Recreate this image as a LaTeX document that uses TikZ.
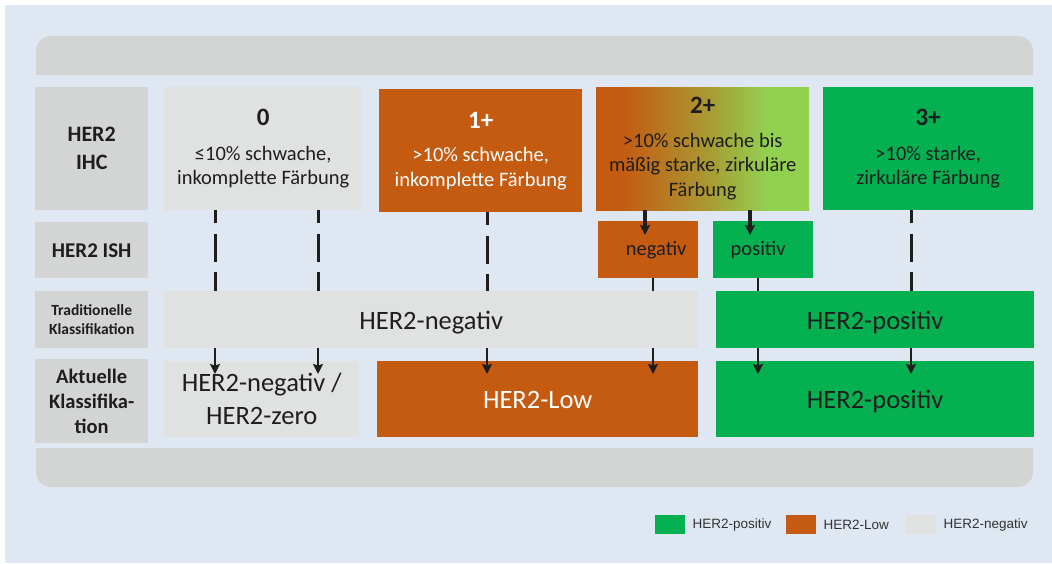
\documentclass[tikz,border=0pt]{standalone}
\usepackage{fontspec}
\setmainfont{Carlito}
\newfontfamily\legfont{Liberation Sans}
\usepackage{xcolor}
\definecolor{bgblue}{HTML}{DFE8F2}
\definecolor{hdrgray}{HTML}{D3D4D4}
\definecolor{negray}{HTML}{E0E1E1}
\definecolor{lowor}{HTML}{C55A11}
\definecolor{posgr}{HTML}{05B050}
\definecolor{lightgr}{HTML}{92D050}
\definecolor{ink}{HTML}{1E1E1E}
\definecolor{legink}{HTML}{333333}
\usepackage{tikz}
\usetikzlibrary{arrows.meta,positioning}
\pgfdeclarehorizontalshading{twoplus}{100bp}{color(0bp)=(lowor); color(31bp)=(lowor); color(50bp)=(lowor!50!lightgr); color(65bp)=(lightgr); color(100bp)=(lightgr)}
\tikzset{
  >={Stealth[length=10pt,width=10pt,inset=1.5pt]},
  cell/.style={anchor=north west,inner sep=0pt,align=center,text=ink},
  sz/.style 2 args={minimum width=#1pt,minimum height=#2pt},
  hdr/.style={cell,fill=hdrgray},
  gbox/.style={cell,fill=negray},
  obox/.style={cell,fill=lowor,text=white},
  pbox/.style={cell,fill=posgr},
  sbox/.style={cell,shade,shading=twoplus},
  big/.style={font=\fontsize{26.5}{33}\selectfont},
  bigone/.style={big,text height=19pt,text depth=0pt},
  body/.style={font=\fontsize{20.5}{24.5}\selectfont},
  dline/.style={draw=ink,line width=3pt,dash pattern=on 28pt off 10.5pt,dash phase=15pt},
  arr/.style={->,draw=ink,line width=2.8pt},
  legbox/.style={anchor=north west,inner sep=0pt,minimum width=30pt,minimum height=19pt},
  leg/.style={inner sep=0pt,font=\legfont\fontsize{13.5}{16}\selectfont,text=legink},
}
\begin{document}
\begin{tikzpicture}[x=1pt,y=-1pt]
\useasboundingbox (0,0) rectangle (1052,563);
\fill[white] (0,0) rectangle (1052,563);
\fill[bgblue] (5,5) rectangle (1052,563);
% top and bottom bars
\fill[hdrgray,rounded corners=15pt] (36,75) -- (36,36) -- (1033,36) -- (1033,75);
\fill[hdrgray,rounded corners=15pt] (36,448) -- (36,487) -- (1033,487) -- (1033,448);

% row heads
\node[hdr,sz={113}{123},font=\bfseries\fontsize{22}{28}\selectfont] (hIHC) at (35,87) {HER2\\IHC};
\node[hdr,sz={113}{56},font=\bfseries\fontsize{21}{25}\selectfont] (hISH) at (35,222) {HER2 ISH};
\node[hdr,sz={113}{57},font=\bfseries\fontsize{15.5}{18.7}\selectfont] (hTrad) at (35,291) {Traditionelle\\Klassifikation};
\node[hdr,sz={113}{84},font=\bfseries\fontsize{20.5}{25}\selectfont] (hAkt) at (35,359) {Aktuelle\\Klassifika-\\tion};

% IHC scores
\node[gbox,body,sz={198}{123}] (ihc0) at (164,87) {{\bfseries\fontsize{25}{25}\selectfont 0}\\[10pt]≤10\% schwache,\\inkomplette Färbung};
\node[obox,body,sz={203}{123}] (ihc1) at (379,89) {{\bfseries\fontsize{25}{25}\selectfont 1+}\\[9pt]>10\% schwache,\\inkomplette Färbung};
\node[sbox,body,sz={213}{123}] (ihc2) at (596,87) {{\bfseries\fontsize{25}{25}\selectfont 2+}\\[9pt]>10\% schwache bis\\mäßig starke, zirkuläre\\Färbung};
\node[pbox,body,sz={210}{123}] (ihc3) at (823,87) {{\bfseries\fontsize{25}{25}\selectfont 3+}\\[10pt]>10\% starke,\\zirkuläre Färbung};

% ISH
\node[obox,body,sz={100}{57},text=ink] (ishneg) at (598,221) {\hspace*{16pt}\raisebox{-9pt}{negativ}};
\node[pbox,body,sz={100}{57}] (ishpos) at (713,221) {\raisebox{-9pt}{positiv}\hspace*{10pt}};

% traditional / current
\node[gbox,bigone,sz={534}{57}] (tradneg) at (164,291) {HER2-negativ};
\node[pbox,bigone,sz={318}{57}] (tradpos) at (716,291) {HER2-positiv};
\node[gbox,big,sz={195}{76}] (aktneg) at (164,361) {HER2-negativ /\\HER2-zero};
\node[obox,bigone,sz={321}{76}] (aktlow) at (377,361) {HER2-Low};
\node[pbox,bigone,sz={318}{76}] (aktpos) at (716,361) {HER2-positiv};

% arrow tips
\coordinate (k0) at (215,374); \coordinate (k1) at (318,374);
\coordinate (k2) at (487,374); \coordinate (k3) at (653,374);
\coordinate (k4) at (758,374); \coordinate (k5) at (911,374);
\coordinate (n1) at (645,235); \coordinate (p1) at (750,235);

\foreach \k/\s/\t in {k0/ihc0/tradneg,k1/ihc0/tradneg,k2/ihc1/tradneg,k5/ihc3/tradpos}
  \draw[dline] (\s.south -| \k) -- (\t.north -| \k);
\foreach \k/\t in {k0/tradneg,k1/tradneg,k2/tradneg,k3/tradneg,k4/tradpos,k5/tradpos}
  \draw[arr] (\t.south -| \k) -- (\k);
\draw[arr,line width=3.2pt] (ihc2.south -| n1) -- (n1);
\draw[arr,line width=3.2pt] (ihc2.south -| p1) -- (p1);
\draw[ink,line width=2.4pt] (ishneg.south -| k3) -- (tradneg.north -| k3);
\draw[ink,line width=2.4pt] (ishpos.south -| k4) -- (tradpos.north -| k4);

% legend
\node[legbox,fill=posgr] (lgpos) at (655,515) {};
\node[leg,right=7pt of lgpos] {HER2-positiv};
\node[legbox,fill=lowor] (lglow) at (786,515) {};
\node[leg,right=7pt of lglow] {HER2-Low};
\node[legbox,fill=negray] (lgneg) at (906,515) {};
\node[leg,right=7pt of lgneg] {HER2-negativ};
\end{tikzpicture}
\end{document}
